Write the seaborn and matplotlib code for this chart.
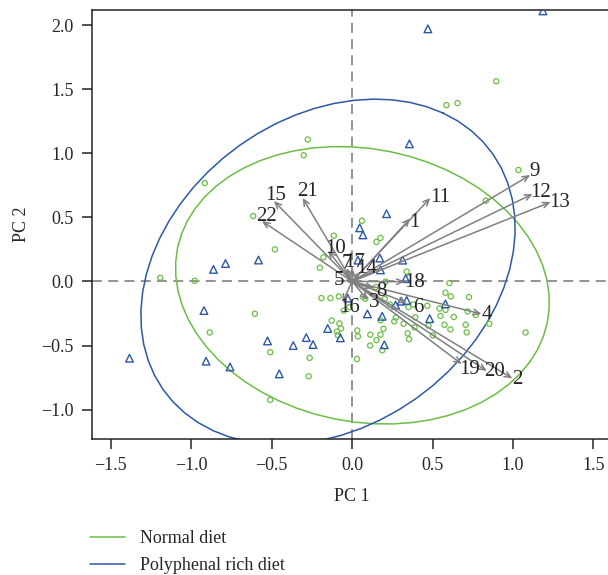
import numpy as np
import pandas as pd
import seaborn as sns
import matplotlib.pyplot as plt

# scores
normal_x = [-0.276, -0.301, -0.916, -0.615, 0.896, 0.586, 0.655, 1.034, 0.831, 0.061,
            -0.114, -0.48, -0.179, -0.201, -1.193, -0.979, -0.191, -0.135, -0.083, -0.605,
            -0.885, -0.127, -0.079, -0.069, -0.094, -0.089, -0.509, -0.264, -0.27, -0.509,
            -0.017, -0.052, 0.151, 0.176, 0.339, 0.208, 0.147, 0.605, 0.58, 0.613,
            0.726, 0.067, 0.082, 0.203, 0.235, 0.35, 0.38, 0.467, 0.543, 0.58,
            0.718, 0.549, 0.632, 0.768, 0.392, 0.272, 0.262, 0.176, 0.32, 0.388,
            0.475, 0.574, 0.706, 0.852, 0.195, 0.611, 0.712, 0.032, 0.036, 0.113,
            0.176, 0.345, 0.354, 0.151, 0.112, 0.187, 0.03, 0.502, 1.078]
normal_y = [1.107, 0.984, 0.768, 0.51, 1.561, 1.375, 1.391, 0.869, 0.63, 0.473,
            0.357, 0.25, 0.188, 0.107, 0.029, 0.005, -0.13, -0.13, -0.117, -0.252,
            -0.398, -0.305, -0.328, -0.367, -0.391, -0.419, -0.552, -0.596, -0.74, -0.924,
            -0.2, -0.227, 0.308, 0.339, 0.077, -0.002, -0.044, -0.013, -0.088, -0.117,
            -0.122, -0.12, -0.135, -0.135, -0.18, -0.2, -0.18, -0.19, -0.211, -0.222,
            -0.234, -0.269, -0.277, -0.261, -0.28, -0.281, -0.311, -0.303, -0.33, -0.358,
            -0.345, -0.338, -0.338, -0.33, -0.369, -0.374, -0.397, -0.382, -0.429, -0.415,
            -0.415, -0.405, -0.45, -0.458, -0.5, -0.537, -0.605, -0.421, -0.398]

poly_x = [1.186, 0.471, 0.356, 0.214, -0.862, -0.787, -0.582, -0.921, -1.384, -0.908,
          -0.759, -0.526, -0.366, -0.285, -0.243, -0.453, -0.152, -0.073, -0.027, 0.047,
          0.067, 0.172, 0.314, 0.176, 0.333, 0.036, 0.095, 0.187, 0.304, 0.339,
          0.27, 0.58, 0.482, 0.2]
poly_y = [2.11, 1.97, 1.073, 0.528, 0.094, 0.14, 0.167, -0.227, -0.599, -0.622,
          -0.667, -0.464, -0.5, -0.438, -0.492, -0.721, -0.367, -0.44, -0.13, 0.418,
          0.363, 0.182, 0.166, 0.09, 0.022, 0.166, -0.253, -0.272, -0.154, -0.148,
          -0.185, -0.175, -0.29, -0.494]

# loadings (arrow tips) and where their numbers sit
var_names = [str(i) for i in range(1, 23)]
tip_x = [0.361, 0.996, 0.098, 0.804, -0.045, 0.34, -0.033, 0.135, 1.107, -0.15, 0.486,
         1.122, 1.234, 0.048, -0.486, -0.06, 0.0, 0.327, 0.681, 0.837, -0.308, -0.561]
tip_y = [0.491, -0.756, -0.145, -0.254, 0.01, -0.168, 0.104, -0.052, 0.83, 0.24, 0.651,
         0.682, 0.619, 0.073, 0.627, -0.161, 0.105, -0.002, -0.644, -0.699, 0.651, 0.471]
lab_x = [0.386, 1.025, 0.135, 0.835, -0.083, 0.409, -0.033, 0.183, 1.135, -0.103, 0.545,
         1.172, 1.29, 0.089, -0.474, -0.014, 0.017, 0.389, 0.731, 0.886, -0.275, -0.532]
lab_y = [0.457, -0.764, -0.161, -0.257, 0.011, -0.207, 0.136, -0.08, 0.854, 0.26, 0.658,
         0.69, 0.619, 0.097, 0.674, -0.207, 0.151, -0.005, -0.686, -0.704, 0.70, 0.51]

# group ellipses: centre, semi axes, angle (deg)
groups = ["Normal diet", "Polyphenal rich diet"]
ell_cx = [0.064, -0.15]
ell_cy = [-0.03, 0.075]
ell_a = [1.2, 1.43]
ell_b = [1.04, 1.06]
ell_ang = [-30, 60]

green = "#6cbd45"
blue = "#2b58a8"
colors = [green, blue]

sns.set_style("ticks")
plt.rcParams["font.family"] = ["Liberation Serif", "DejaVu Serif"]

fig = plt.figure(figsize=(6.08, 5.75), dpi=100)
ax = fig.add_axes([0.1508, 0.2365, 0.857, 0.7461])

ax.axhline(0, color="#8a8a8a", lw=1.3, ls=(0, (5.5, 3.5)), zorder=1)
ax.axvline(0, color="#8a8a8a", lw=1.3, ls=(0, (5.5, 3.5)), zorder=1)

df_n = pd.DataFrame({"PC1": normal_x, "PC2": normal_y})
df_p = pd.DataFrame({"PC1": poly_x, "PC2": poly_y})
sns.scatterplot(data=df_n, x="PC1", y="PC2", marker="o", s=14, fc="none",
                ec=green, linewidth=0.9, ax=ax, zorder=3)
sns.scatterplot(data=df_p, x="PC1", y="PC2", marker="^", s=30, fc="none",
                ec=blue, linewidth=1.0, ax=ax, zorder=3)

t = np.linspace(0, 2 * np.pi, 61)
for g, cx, cy, a, b, ang, c in zip(groups, ell_cx, ell_cy, ell_a, ell_b, ell_ang, colors):
    th = np.deg2rad(ang)
    ex = cx + a * np.cos(t) * np.cos(th) - b * np.sin(t) * np.sin(th)
    ey = cy + a * np.cos(t) * np.sin(th) + b * np.sin(t) * np.cos(th)
    ax.plot(ex, ey, color=c, lw=1.1, label=g, zorder=2)

for name, tx, ty, lx, ly in zip(var_names, tip_x, tip_y, lab_x, lab_y):
    ax.annotate("", xy=(tx, ty), xytext=(0, 0),
                arrowprops=dict(arrowstyle="->,head_length=0.45,head_width=0.2",
                                color="#808080", lw=1.1, shrinkA=0, shrinkB=0),
                zorder=4)
    ax.text(lx, ly, name, fontsize=15, ha="center", va="center", zorder=5)

ax.set_xlim(-1.619, 1.62)
ax.set_ylim(-1.229, 2.117)
ax.set_xticks([-1.5, -1.0, -0.5, 0.0, 0.5, 1.0, 1.5])
ax.set_yticks([-1.0, -0.5, 0.0, 0.5, 1.0, 1.5, 2.0])
ax.xaxis.set_major_formatter(plt.FuncFormatter(lambda v, p: f"{v:.1f}".replace("-", "\u2212")))
ax.yaxis.set_major_formatter(plt.FuncFormatter(lambda v, p: f"{v:.1f}".replace("-", "\u2212")))
ax.tick_params(labelsize=13, length=7, width=1.1, color="#222222", pad=6)
for s in ax.spines.values():
    s.set_linewidth(1.1)
    s.set_color("#222222")
ax.set_xlabel("PC 1", fontsize=13, labelpad=10)
ax.set_ylabel("PC 2", fontsize=13, labelpad=8)

handles, labels = ax.get_legend_handles_labels()
fig.legend(handles, labels, loc="upper left", bbox_to_anchor=(0.148, 0.078),
           frameon=False, fontsize=13, handlelength=1.95, handletextpad=0.8,
           labelspacing=0.55, borderpad=0, borderaxespad=0)

fig.savefig("out.png", dpi=100)
